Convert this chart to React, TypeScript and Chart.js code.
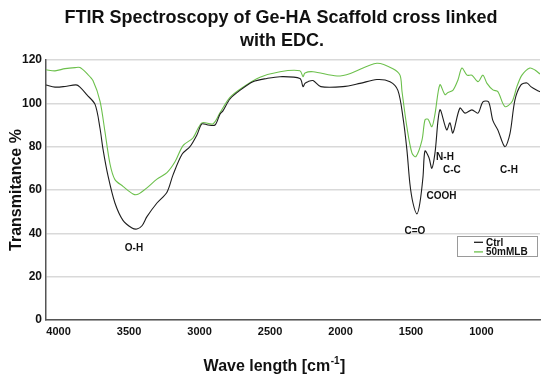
import React, { useEffect, useRef } from "react";
import { Chart, registerables } from "chart.js";

Chart.register(...registerables);

// Ctrl spectrum: wavenumber [cm-1] and transmittance [%]
const ctrlWave = [4089, 4025, 3954, 3876, 3848, 3800, 3741, 3706, 3685, 3649, 3600, 3543, 3479, 3444, 3408, 3373, 3302, 3231, 3188, 3124, 3068, 3018, 2983, 2940, 2890, 2855, 2834, 2784, 2713, 2621, 2522, 2429, 2288, 2266, 2252, 2231, 2195, 2140, 1983, 1862, 1742, 1649, 1593, 1557, 1529, 1508, 1486, 1458, 1437, 1415, 1401, 1373, 1352, 1330, 1295, 1247, 1224, 1203, 1153, 1117, 1068, 1025, 990, 950, 919, 884, 834, 798, 763, 720, 677, 650, 607, 585];
const ctrlT = [108.5, 107.5, 107.8, 108.5, 107.5, 104, 99.5, 88.5, 79, 66.5, 54, 46, 42.5, 42, 43.5, 47.7, 54, 59, 67, 76.5, 80, 85.5, 90.5, 90, 90, 95, 96.5, 102, 106, 110, 111.5, 112.3, 111.5, 107.7, 109.2, 110, 110.5, 107.7, 107.7, 109.2, 111, 110, 106, 93.5, 78.5, 63, 54, 49, 54, 66, 78, 75, 70, 77, 97, 87.7, 91, 86.3, 97.8, 95.5, 97, 95.5, 100.7, 100.7, 92, 87.7, 80, 86, 101.5, 108.5, 109.4, 107.7, 106, 105.4];

// 50mMLB spectrum
const mlbWave = [4089, 4025, 3954, 3883, 3848, 3798, 3756, 3706, 3671, 3635, 3600, 3543, 3472, 3437, 3373, 3302, 3231, 3174, 3117, 3047, 2983, 2905, 2855, 2784, 2692, 2571, 2429, 2288, 2266, 2252, 2195, 2025, 1930, 1742, 1628, 1578, 1564, 1529, 1493, 1465, 1422, 1401, 1380, 1352, 1330, 1295, 1259, 1238, 1203, 1167, 1139, 1103, 1068, 1025, 990, 961, 919, 884, 834, 784, 749, 713, 657, 621, 585];
const mlbT = [115.5, 115, 116, 116.5, 116.5, 113.7, 110.5, 101, 87, 72, 64.8, 61.7, 58.2, 58, 61, 65, 68, 73, 80.5, 84, 91, 90.5, 95.6, 102.7, 107.4, 112, 114.6, 115, 112.3, 114, 114.6, 112.6, 113.8, 118.5, 116, 113, 105.6, 89, 77, 75.4, 83, 92.3, 92.7, 89.2, 95, 108.6, 104, 105, 106, 110.8, 116.3, 113, 113, 110, 113, 109.2, 106.2, 105.4, 98.5, 100.7, 107.7, 113, 116.3, 115.4, 113.5];

const seriesNames = ["Ctrl", "50mMLB"];
const seriesColors = ["#1e1e1e", "#6cc04c"];

const xTickValues = [4000, 3500, 3000, 2500, 2000, 1500, 1000];
const yTickValues = [0, 20, 40, 60, 80, 100, 120];

const titleLines = ["FTIR Spectroscopy of Ge-HA Scaffold cross linked", "with EDC."];
const yTitle = "Transmitance %";

// peak labels: text, wavenumber, transmittance
const peakLabels = ["O-H", "C=O", "COOH", "N-H", "C-C", "C-H"];
const peakWave = [3465, 1472, 1284, 1259, 1210, 805];
const peakT = [33, 40.8, 57, 75, 69, 69];

const FONT = '"Liberation Sans", Arial, Helvetica, sans-serif';

const textPlugin = {
  id: "customText",
  afterDraw(chart: any) {
    const ctx = chart.ctx;
    const ca = chart.chartArea;
    const xs = chart.scales.x;
    const ys = chart.scales.y;
    ctx.save();
    ctx.fillStyle = "#111";
    // title
    ctx.font = `bold 18px ${FONT}`;
    ctx.textAlign = "center";
    ctx.textBaseline = "alphabetic";
    ctx.fillText(titleLines[0], 281, 23);
    ctx.fillText(titleLines[1], 282, 46);

    // x axis title with superscript
    const main = "Wave length [cm";
    const sup = "-1";
    const end = "]";
    ctx.font = `bold 16px ${FONT}`;
    const wMain = ctx.measureText(main).width;
    const wEnd = ctx.measureText(end).width;
    ctx.font = `bold 10px ${FONT}`;
    const wSup = ctx.measureText(sup).width;
    let x0 = 274 - (wMain + wSup + wEnd) / 2;
    ctx.textAlign = "left";
    ctx.font = `bold 16px ${FONT}`;
    ctx.fillText(main, x0, 371);
    ctx.font = `bold 10px ${FONT}`;
    ctx.fillText(sup, x0 + wMain + 0.5, 364);
    ctx.font = `bold 16px ${FONT}`;
    ctx.fillText(end, x0 + wMain + wSup + 1, 371);

    // peak labels
    ctx.font = `bold 10px ${FONT}`;
    ctx.textAlign = "center";
    ctx.textBaseline = "middle";
    for (let i = 0; i < peakLabels.length; i++) {
      ctx.fillText(peakLabels[i], xs.getPixelForValue(peakWave[i]), ys.getPixelForValue(peakT[i]));
    }

    // legend
    const bw = 80;
    const bh = 20;
    const bx = ca.right - 2.5 - bw;
    const by = ca.top + 176.5;
    ctx.strokeStyle = "#9a9a9a";
    ctx.lineWidth = 1;
    ctx.fillStyle = "#fff";
    ctx.fillRect(bx, by, bw, bh);
    ctx.strokeRect(bx, by, bw, bh);
    ctx.textAlign = "left";
    ctx.font = `bold 10px ${FONT}`;
    for (let i = 0; i < seriesNames.length; i++) {
      const ly = by + 5.8 + i * 9.6;
      ctx.strokeStyle = seriesColors[i];
      ctx.lineWidth = 1.3;
      ctx.beginPath();
      ctx.moveTo(bx + 16.5, ly);
      ctx.lineTo(bx + 25.5, ly);
      ctx.stroke();
      ctx.fillStyle = "#111";
      ctx.fillText(seriesNames[i], bx + 28.5, ly + 0.5);
    }
    ctx.restore();
  },
};

export default function App() {
  const ref = useRef<HTMLCanvasElement>(null);
  useEffect(() => {
    if (!ref.current) return;
    const toPts = (xs: number[], ys: number[]) => xs.map((x, i) => ({ x, y: ys[i] }));
    const chart = new Chart(ref.current, {
      type: "line",
      data: {
        datasets: [
          {
            label: seriesNames[0],
            data: toPts(ctrlWave, ctrlT),
            borderColor: seriesColors[0],
            borderWidth: 1.1,
            pointRadius: 0,
            tension: 0.3,
            fill: false,
          },
          {
            label: seriesNames[1],
            data: toPts(mlbWave, mlbT),
            borderColor: seriesColors[1],
            borderWidth: 1.1,
            pointRadius: 0,
            tension: 0.3,
            fill: false,
          },
        ],
      },
      options: {
        animation: false,
        responsive: false,
        maintainAspectRatio: false,
        layout: { padding: { left: 0, right: 10, top: 60, bottom: 0 } },
        plugins: {
          legend: { display: false },
          title: { display: false },
          tooltip: { enabled: false },
        },
        scales: {
          x: {
            type: "linear",
            reverse: true,
            min: 585,
            max: 4089,
            afterBuildTicks: (s: any) => {
              s.ticks = xTickValues.map((v) => ({ value: v }));
            },
            afterFit: (s: any) => {
              s.height = 59;
            },
            grid: { display: false, drawTicks: false },
            border: { display: true, color: "#555", width: 1.5 },
            ticks: {
              autoSkip: false,
              maxRotation: 0,
              padding: 5,
              color: "#111",
              callback: (v: any) => String(v),
              font: { family: FONT, size: 11, weight: "bold" },
            },
          },
          y: {
            min: 0,
            max: 120,
            afterBuildTicks: (s: any) => {
              s.ticks = yTickValues.map((v) => ({ value: v }));
            },
            afterFit: (s: any) => {
              s.width = 46;
            },
            grid: { color: "#d9d9d9", lineWidth: 1.5, drawTicks: false },
            border: { display: true, color: "#555", width: 1.5 },
            ticks: {
              padding: 4,
              color: "#111",
              callback: (v: any) => String(v),
              font: { family: FONT, size: 12, weight: "bold" },
            },
            title: {
              display: true,
              text: yTitle,
              color: "#111",
              padding: { top: 7, bottom: 0 },
              font: { family: FONT, size: 16, weight: "bold" },
            },
          },
        },
      },
      plugins: [textPlugin],
    });
    return () => chart.destroy();
  }, []);
  return (
    <div style={{ position: "fixed", left: 0, top: 0, width: 550, height: 379, background: "#fff" }}>
      <canvas ref={ref} width={550} height={379} style={{ display: "block", width: 550, height: 379 }} />
    </div>
  );
}
